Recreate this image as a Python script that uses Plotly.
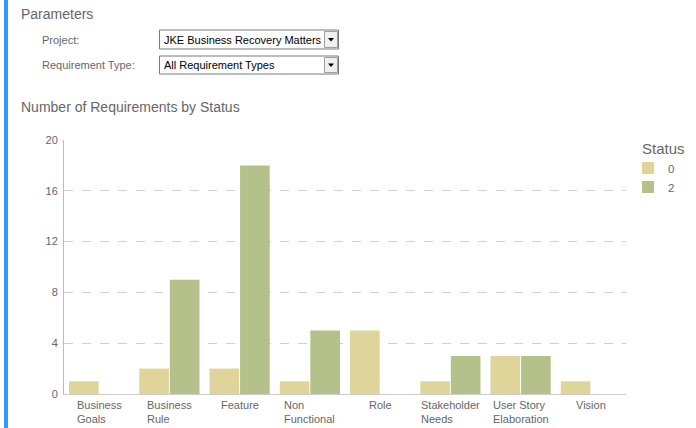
import plotly.graph_objects as go

W, H = 696, 428

categories = ["Business Goals", "Business Rule", "Feature", "Non Functional",
              "Role", "Stakeholder Needs", "User Story Elaboration", "Vision"]
tick_labels = ["Business<br>Goals", "Business<br>Rule", "Feature", "Non<br>Functional",
               "Role", "Stakeholder<br>Needs", "User Story<br>Elaboration", "Vision"]
status_0 = [1, 2, 2, 1, 5, 1, 3, 1]
status_2 = [None, 9, 18, 5, None, 3, 3, None]
y_ticks = [0, 4, 8, 12, 16, 20]


def px(x):
    return x / W


def py(y):
    return 1 - y / H


fig = go.Figure()
fig.add_trace(go.Bar(x=categories, y=status_0, name="0", marker_color="#DFD59A",
                     marker_line_width=0))
fig.add_trace(go.Bar(x=categories, y=status_2, name="2", marker_color="#B5C18A",
                     marker_line_width=0))

hdr_font = dict(family="Liberation Sans, Arial", size=14, color="#666666")
lbl_font = dict(family="Liberation Sans, Arial", size=11, color="#666666")
box_font = dict(family="Liberation Sans, Arial", size=11, color="#000000")

annotations = [
    dict(text="Parameters", x=px(19), y=py(14), font=hdr_font),
    dict(text="Project:", x=px(40), y=py(40), font=lbl_font),
    dict(text="Requirement Type:", x=px(40), y=py(65), font=lbl_font),
    dict(text="JKE Business Recovery Matters", x=px(162), y=py(40), font=box_font),
    dict(text="All Requirement Types", x=px(162), y=py(65), font=box_font),
    dict(text="Number of Requirements by Status", x=px(19), y=py(107), font=hdr_font),
]
for a in annotations:
    a.update(xref="paper", yref="paper", xanchor="left", yanchor="middle",
             showarrow=False)

# category labels: block centred on the category, lines left-aligned
for cat, lab in zip(categories, tick_labels):
    annotations.append(dict(text=lab, x=cat, xref="x", y=py(397), yref="paper",
                            xanchor="center", yanchor="top", align="left",
                            showarrow=False, font=lbl_font))

shapes = [
    dict(type="rect", x0=px(4), x1=px(8), y0=0, y1=1, fillcolor="#3399FF",
         line_width=0),
]
for top, bot in [(30, 49), (56, 74)]:
    shapes.append(dict(type="rect", x0=px(159.5), x1=px(338.5), y0=py(bot), y1=py(top),
                       line=dict(color="#7A7A7A", width=1), fillcolor="white"))
    shapes.append(dict(type="rect", x0=px(324.5), x1=px(337.5), y0=py(bot - 1.5),
                       y1=py(top + 1.5), line=dict(color="#A0A0A0", width=1),
                       fillcolor="#F0F0F0"))
    cy = (top + bot) / 2
    shapes.append(dict(type="path",
                       path=f"M {px(328)} {py(cy - 1.5)} L {px(334)} {py(cy - 1.5)} "
                            f"L {px(331)} {py(cy + 2)} Z",
                       fillcolor="black", line_width=0))
for s in shapes:
    s.update(xref="paper", yref="paper", layer="below")

fig.update_layout(
    width=W, height=H,
    margin=dict(l=0, r=0, t=0, b=0, autoexpand=False),
    paper_bgcolor="white", plot_bgcolor="white",
    barmode="group", bargap=0.13, bargroupgap=0.03,
    font=dict(family="Liberation Sans, Arial", size=11, color="#666666"),
    xaxis=dict(domain=[px(64), px(626)], categoryorder="array",
               categoryarray=categories, showticklabels=False,
               showgrid=False, showline=True, linecolor="#CCCCCC", linewidth=1,
               ticks="", automargin=False),
    yaxis=dict(domain=[py(394), py(140)], range=[0, 20], tickvals=y_ticks,
               showgrid=True, gridcolor="#D0D0D0", griddash="dash", gridwidth=1,
               showline=True, linecolor="#BBBBBB", linewidth=1, zeroline=False,
               ticks="", ticklabelstandoff=3, automargin=False,
               tickfont=dict(size=11, color="#666666")),
    legend=dict(x=px(640), y=py(134), xanchor="left", yanchor="top",
                title=dict(text="Status", font=dict(size=15, color="#666666")),
                font=dict(size=11.5, color="#666666"), tracegroupgap=0,
                itemwidth=30, indentation=-12, bgcolor="rgba(0,0,0,0)"),
    annotations=annotations,
    shapes=shapes,
)

fig.write_html("out.html", config={"displayModeBar": False},
               post_script="document.body.style.margin='0';"
                           "document.body.style.overflow='hidden';")
